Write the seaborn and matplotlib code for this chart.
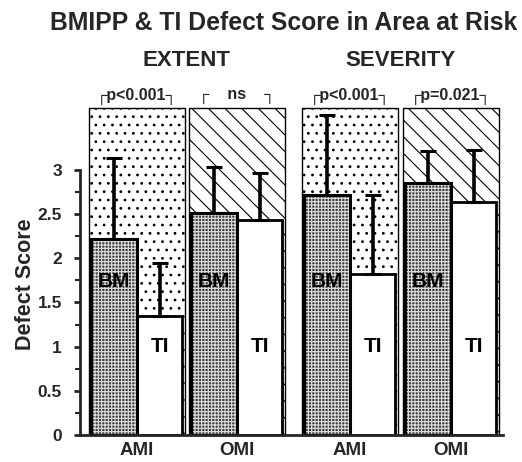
import numpy as np
import pandas as pd
import matplotlib
matplotlib.use("Agg")
import matplotlib.pyplot as plt
import seaborn as sns
from matplotlib.patches import Rectangle
from matplotlib.ticker import FixedLocator, FixedFormatter

# ---------------- data ----------------
measures = ["EXTENT", "EXTENT", "SEVERITY", "SEVERITY"]
groups = ["AMI", "OMI", "AMI", "OMI"]
tracers = ["BM", "TI"]
bm_mean = [2.22, 2.51, 2.72, 2.85]
bm_sd = [0.91, 0.52, 0.90, 0.36]
ti_mean = [1.35, 2.43, 1.82, 2.64]
ti_sd = [0.60, 0.54, 0.90, 0.59]
p_labels = ["p<0.001", "ns", "p<0.001", "p=0.021"]
yticks = [0, 0.5, 1, 1.5, 2, 2.5, 3]
ytick_labels = ["0", "0.5", "1", "1.5", "2", "2.5", "3"]
title = "BMIPP & TI Defect Score in Area at Risk"
ylabel = "Defect Score"

# ---------------- layout ----------------
panel_x = [0.0, 1.0, 2.13, 3.14]
y_top = 3.7
FONT = ["Liberation Sans", "DejaVu Sans"]

sns.set_style("ticks")
plt.rcParams["font.family"] = FONT
plt.rcParams["font.weight"] = "bold"
plt.rcParams["hatch.linewidth"] = 0.8

df = pd.DataFrame({
    "x": panel_x * 2,
    "tracer": ["BM"] * 4 + ["TI"] * 4,
    "score": bm_mean + ti_mean,
})

fig = plt.figure(figsize=(5.22, 4.62), dpi=100)
ax = fig.add_axes([80 / 522, 27 / 462, 423 / 522, 327 / 462])

# background panels
bg = ax.bar(panel_x, [y_top] * 4, width=0.96, color="white",
            edgecolor="black", linewidth=1, zorder=0.5, clip_on=False)
for p, g in zip(bg, groups):
    p.set_hatch(".." if g == "AMI" else "\\\\")
n_bg = len(ax.patches)

sns.barplot(data=df, x="x", y="score", hue="tracer", hue_order=tracers,
            native_scale=True, width=0.91, errorbar=None, saturation=1,
            palette={"BM": "#404040", "TI": "white"}, edgecolor="black",
            linewidth=2, legend=False, ax=ax)

bars = ax.patches[n_bg:]
bm_bars = sorted([b for b in bars if b.get_facecolor()[0] < 0.9], key=lambda b: b.get_x())
ti_bars = sorted([b for b in bars if b.get_facecolor()[0] >= 0.9], key=lambda b: b.get_x())

for b in bm_bars:
    b.set_hatch("+++++")
    b.set_edgecolor("#e0e0e0")
    b.set_linewidth(0)
    ax.add_patch(Rectangle(b.get_xy(), b.get_width(), b.get_height(), fill=False,
                           edgecolor="black", linewidth=2.2, zorder=b.get_zorder() + 0.1))

for blist, means, sds, lab, ly in [(bm_bars, bm_mean, bm_sd, "BM", 1.74),
                                   (ti_bars, ti_mean, ti_sd, "TI", 1.0)]:
    xc = [b.get_x() + b.get_width() / 2 for b in blist]
    ax.errorbar(xc, means, yerr=[np.zeros(len(sds)), sds], fmt="none",
                ecolor="black", elinewidth=2.6, capsize=6, capthick=2.2, zorder=4)
    for x in xc:
        ax.text(x, ly, lab, ha="center", va="center", fontsize=15,
                fontweight="heavy", color="black", zorder=5)

# p-value labels
for x, p in zip(panel_x, p_labels):
    txt = "┌    ns    ┐" if p == "ns" else "┌" + p + "┐"
    ax.text(x, 3.83, txt, ha="center", va="center", fontsize=11.5,
            fontweight="bold", family=FONT, clip_on=False)

# section headers
for m in ["EXTENT", "SEVERITY"]:
    xs = [x for x, mm in zip(panel_x, measures) if mm == m]
    ax.text(np.mean(xs), 4.24, m, ha="center", va="center", fontsize=16,
            fontweight="bold", clip_on=False)

fig.text(284 / 522, 1 - 23 / 462, title, ha="center", va="center",
         fontsize=17.8, fontweight="bold")

# axes styling
ax.set_xlim(-0.57, 3.66)
ax.set_ylim(0, y_top)
ax.set_xticks(panel_x)
ax.set_xticklabels(groups, fontsize=13.5, fontweight="bold")
ax.tick_params(axis="x", length=0, pad=5)
ax.yaxis.set_major_locator(FixedLocator(yticks))
ax.yaxis.set_major_formatter(FixedFormatter(ytick_labels))
ax.yaxis.set_minor_locator(FixedLocator([0.25, 0.75, 1.25, 1.75, 2.25, 2.75]))
ax.tick_params(axis="y", which="major", length=4, width=2, pad=9, labelsize=12.5)
ax.tick_params(axis="y", which="minor", length=3.5, width=1.5)
for t in ax.get_yticklabels():
    t.set_fontweight("bold")
ax.set_xlabel("")
ax.set_ylabel(ylabel, fontsize=15.5, fontweight="bold")
ax.yaxis.set_label_coords(-0.105, 0.46)
ax.spines["top"].set_visible(False)
ax.spines["right"].set_visible(False)
ax.spines["left"].set_bounds(0, 3)
ax.spines["left"].set_linewidth(2)
ax.spines["bottom"].set_linewidth(2)

fig.savefig("out.png", dpi=100)
